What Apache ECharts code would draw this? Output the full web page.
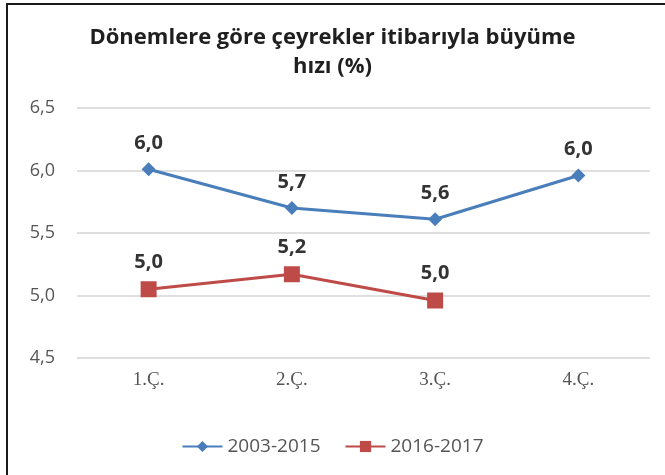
<!DOCTYPE html>
<html>
<head>
<meta charset="utf-8">
<script src="https://cdn.jsdelivr.net/npm/echarts@6/dist/echarts.min.js"></script>
<style>
  html, body { margin: 0; padding: 0; background: #fff; }
  #chart { width: 665px; height: 475px; }
  .frame { position: absolute; left: 6px; top: 3px; right: -10px; bottom: -10px;
    border-top: 2px solid #1a1a1a; border-left: 2px solid #1a1a1a; pointer-events: none; }
</style>
</head>
<body>
<div id="chart"></div>
<div class="frame"></div>
<script>
// çeyrekler
const quarters = ['1.Ç.', '2.Ç.', '3.Ç.', '4.Ç.'];
// büyüme hızları (%)
const growth2003_2015 = [6.01, 5.70, 5.61, 5.96];
const growth2016_2017 = [5.05, 5.17, 4.96, null];
const yTicks = [4.5, 5.0, 5.5, 6.0, 6.5];

const fmt = (v) => v.toFixed(1).replace('.', ',');

const chart = echarts.init(document.getElementById('chart'));

const labelStyle = {
  show: true,
  position: 'top',
  distance: 9,
  fontFamily: 'Open Sans',
  fontWeight: 'bold',
  fontSize: 20,
  color: '#333',
  formatter: (p) => fmt(p.value)
};

chart.setOption({
  animation: false,
  title: {
    text: 'Dönemlere göre çeyrekler itibarıyla büyüme\nhızı (%)',
    left: 'center',
    top: 18,
    textStyle: {
      fontFamily: 'Open Sans',
      fontWeight: 'bold',
      fontSize: 22,
      lineHeight: 29,
      color: '#1f1f1f'
    }
  },
  legend: {
    bottom: 14,
    left: 'center',
    itemWidth: 40,
    itemHeight: 14,
    itemGap: 24,
    textStyle: { fontFamily: 'Open Sans', fontSize: 19, color: '#555' },
    data: ['2003-2015', '2016-2017']
  },
  grid: { left: 77, right: 15, top: 108, bottom: 117 },
  xAxis: {
    type: 'category',
    data: quarters,
    boundaryGap: true,
    axisLine: { show: false },
    axisTick: { show: false },
    axisLabel: { fontFamily: 'Liberation Serif', fontSize: 19, color: '#555', margin: 13 }
  },
  yAxis: {
    type: 'value',
    min: yTicks[0],
    max: yTicks[yTicks.length - 1],
    interval: 0.5,
    axisLine: { show: false },
    axisTick: { show: false },
    axisLabel: { fontFamily: 'Open Sans', fontSize: 18, color: '#555', margin: 22, formatter: fmt },
    splitLine: { lineStyle: { color: '#d4d4d4', width: 1.5 } }
  },
  series: [
    {
      name: '2003-2015',
      type: 'line',
      data: growth2003_2015,
      symbol: 'diamond',
      symbolSize: 14,
      lineStyle: { color: '#4a7ebb', width: 3 },
      itemStyle: { color: '#4a7ebb' },
      label: labelStyle
    },
    {
      name: '2016-2017',
      type: 'line',
      data: growth2016_2017,
      symbol: 'rect',
      symbolSize: 16,
      lineStyle: { color: '#be4b48', width: 3 },
      itemStyle: { color: '#be4b48' },
      label: labelStyle
    }
  ]
});
</script>
</body>
</html>
